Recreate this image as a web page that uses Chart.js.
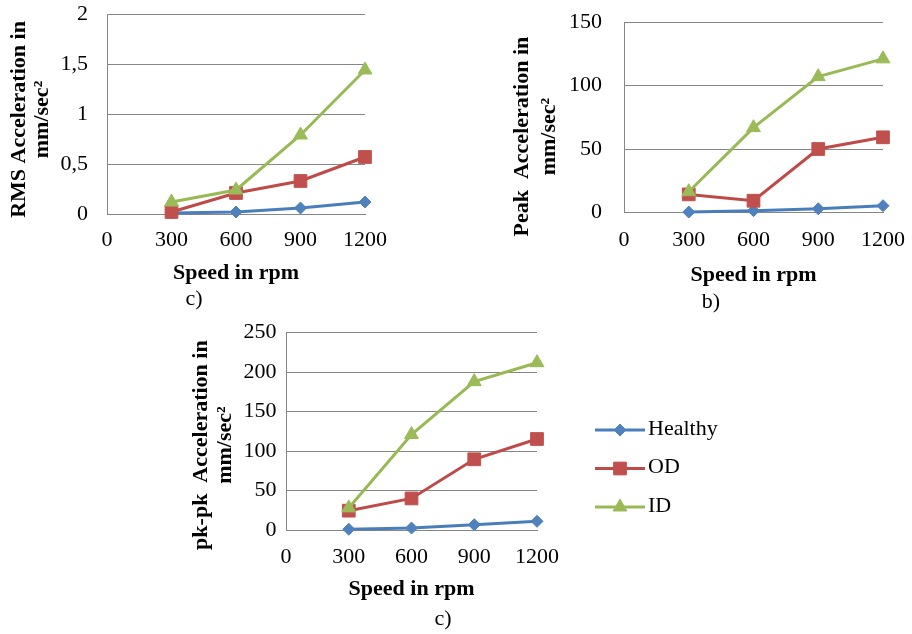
<!DOCTYPE html>
<html>
<head>
<meta charset="utf-8">
<script src="https://cdn.jsdelivr.net/npm/chart.js@4"></script>
<style>
html,body{margin:0;padding:0;background:#ffffff;}
#wrap{position:relative;width:912px;height:634px;overflow:hidden;background:#ffffff;}
#wrap canvas{position:absolute;left:0;top:0;width:912px;height:634px;}
</style>
</head>
<body>
<div id="wrap">
<canvas id="rmsChart" width="912" height="634"></canvas>
<canvas id="peakChart" width="912" height="634"></canvas>
<canvas id="pkpkChart" width="912" height="634"></canvas>
</div>
<script>
// ---- data ----
const speeds = [300, 600, 900, 1200];
const seriesNames = ['Healthy', 'OD', 'ID'];

const rmsHealthy = [0.01, 0.02, 0.06, 0.12];
const rmsOD      = [0.02, 0.21, 0.33, 0.57];
const rmsID      = [0.12, 0.24, 0.79, 1.44];

const peakHealthy = [0.5, 1.6, 3.1, 5.5];
const peakOD      = [14.4, 9.4, 50.1, 59.3];
const peakID      = [16.5, 66.9, 107, 121];

const pkpkHealthy = [1, 2.5, 6.7, 11];
const pkpkOD      = [24.5, 40, 89.6, 115.3];
const pkpkID      = [28, 121, 188, 212];

const xTicks = [0, 300, 600, 900, 1200];
const rmsTicks = [0, 0.5, 1, 1.5, 2];
const peakTicks = [0, 50, 100, 150];
const pkpkTicks = [0, 50, 100, 150, 200, 250];

const xTitle = 'Speed in rpm';
const rmsTitle = ['RMS Acceleration in  ', 'mm/sec\u00B2  '];
const peakTitle = ['Peak  Acceleration in       ', 'mm/sec\u00B2       '];
const pkpkTitle = ['pk-pk  Acceleration in     ', 'mm/sec\u00B2     '];

// ---- styles ----
const FONT = "'Liberation Serif', 'Times New Roman', serif";
Chart.defaults.font.family = FONT;
Chart.defaults.color = '#000000';
const GRID = '#868686';
const CLEAR = 'rgba(0,0,0,0)';
const styles = [
  {line: '#4A7EBB', fill: '#4F81BD', point: 'rectRot', radius: 6, order: 2},
  {line: '#BE4B48', fill: '#C0504D', point: 'rect', radius: 9, order: 1},
  {line: '#98B954', fill: '#9BBB59', point: 'triangle', radius: 8, order: 0}
];
const W = 912, H = 634;

function buildDatasets(seriesList) {
  return seriesList.map((vals, i) => ({
    label: seriesNames[i],
    data: speeds.map((s, j) => ({x: s, y: vals[j]})),
    borderColor: styles[i].line,
    backgroundColor: styles[i].fill,
    pointBackgroundColor: styles[i].fill,
    pointBorderColor: styles[i].fill,
    pointStyle: styles[i].point,
    pointRadius: styles[i].radius,
    pointHoverRadius: styles[i].radius,
    pointBorderWidth: 1,
    borderWidth: 3,
    tension: 0,
    fill: false,
    clip: false,
    order: styles[i].order
  }));
}

const captionPlugin = {
  id: 'caption',
  afterDraw(chart, args, opts) {
    if (!opts || !opts.text) return;
    const ctx = chart.ctx;
    ctx.save();
    ctx.fillStyle = '#000000';
    ctx.font = '22px ' + FONT;
    ctx.textAlign = 'center';
    ctx.textBaseline = 'alphabetic';
    ctx.fillText(opts.text, opts.x, opts.y);
    ctx.restore();
  }
};

const legendPlugin = {
  id: 'sideLegend',
  afterDraw(chart, args, opts) {
    if (!opts || !opts.show) return;
    const ctx = chart.ctx;
    chart.data.datasets.forEach((ds, i) => {
      const y = opts.top + i * opts.gap;
      ctx.save();
      ctx.strokeStyle = ds.borderColor;
      ctx.lineWidth = ds.borderWidth;
      ctx.beginPath();
      ctx.moveTo(opts.x0, y);
      ctx.lineTo(opts.x1, y);
      ctx.stroke();
      ctx.fillStyle = ds.pointBackgroundColor;
      ctx.strokeStyle = ds.pointBorderColor;
      ctx.lineWidth = 1;
      Chart.helpers.drawPoint(ctx, {pointStyle: ds.pointStyle, radius: ds.pointRadius, rotation: 0, borderWidth: 1}, (opts.x0 + opts.x1) / 2, y);
      ctx.fillStyle = '#000000';
      ctx.font = '22px ' + FONT;
      ctx.textAlign = 'left';
      ctx.textBaseline = 'middle';
      ctx.fillText(ds.label, opts.textX, y - 1);
      ctx.restore();
    });
  }
};

function makeChart(id, p) {
  const xAxisBottom = p.xTitleY + 13.2;
  return new Chart(document.getElementById(id), {
    type: 'line',
    data: {datasets: buildDatasets(p.series)},
    options: {
      responsive: false,
      animation: false,
      events: [],
      layout: {
        padding: {
          left: p.yLeft,
          top: p.area.top,
          right: W - p.area.right,
          bottom: H - xAxisBottom
        }
      },
      scales: {
        x: {
          type: 'linear',
          min: xTicks[0],
          max: xTicks[xTicks.length - 1],
          afterBuildTicks: (s) => { s.ticks = xTicks.map(v => ({value: v})); },
          afterFit: (s) => { s.height = xAxisBottom - p.area.bottom; },
          grid: {display: true, drawOnChartArea: false, color: CLEAR, drawTicks: true, tickLength: p.xTickPad, tickColor: CLEAR},
          border: {display: true, color: GRID, width: 1},
          ticks: {
            padding: 0, color: '#000000',
            font: {size: 22, family: FONT, lineHeight: 1.2},
            maxRotation: 0, autoSkip: false,
            callback: (v) => String(v)
          },
          title: {display: true, text: xTitle, color: '#000000', padding: 0, font: {size: 22, weight: 'bold', family: FONT, lineHeight: 1.2}}
        },
        y: {
          type: 'linear',
          min: p.yTicks[0],
          max: p.yTicks[p.yTicks.length - 1],
          afterBuildTicks: (s) => { s.ticks = p.yTicks.map(v => ({value: v})); },
          afterFit: (s) => { s.width = p.area.left - p.yLeft; },
          grid: {display: true, color: GRID, lineWidth: 1, drawTicks: true, tickLength: p.yTickPad, tickColor: CLEAR},
          border: {display: true, color: GRID, width: 1},
          ticks: {
            padding: 0, color: '#000000',
            font: {size: 22, family: FONT, lineHeight: 1.2},
            callback: (v) => String(v).replace('.', ',')
          },
          title: {display: true, text: p.yTitle, color: '#000000', padding: 0, font: {size: 22, weight: 'bold', family: FONT, lineHeight: p.yLineH / 22}}
        }
      },
      plugins: {
        legend: {display: false},
        tooltip: {enabled: false},
        caption: p.caption,
        sideLegend: p.legend || {show: false}
      }
    },
    plugins: [captionPlugin, legendPlugin]
  });
}

makeChart('rmsChart', {
  series: [rmsHealthy, rmsOD, rmsID],
  yTicks: rmsTicks, yTitle: rmsTitle,
  area: {left: 107, right: 365, top: 14, bottom: 214},
  yLeft: 7.8, yLineH: 23, xTitleY: 273, yTickPad: 19, xTickPad: 13,
  caption: {text: 'c)', x: 194, y: 305}
});

makeChart('peakChart', {
  series: [peakHealthy, peakOD, peakID],
  yTicks: peakTicks, yTitle: peakTitle,
  area: {left: 624, right: 883, top: 22, bottom: 212.7},
  yLeft: 508.8, yLineH: 27, xTitleY: 275, yTickPad: 22, xTickPad: 14.5,
  caption: {text: 'b)', x: 711, y: 308}
});

makeChart('pkpkChart', {
  series: [pkpkHealthy, pkpkOD, pkpkID],
  yTicks: pkpkTicks, yTitle: pkpkTitle,
  area: {left: 286, right: 537, top: 332.7, bottom: 530},
  yLeft: 189.3, yLineH: 24, xTitleY: 589, yTickPad: 9.5, xTickPad: 14,
  caption: {text: 'c)', x: 443, y: 625},
  legend: {show: true, x0: 595, x1: 645, textX: 648, top: 430, gap: 38.5}
});
</script>
</body>
</html>
